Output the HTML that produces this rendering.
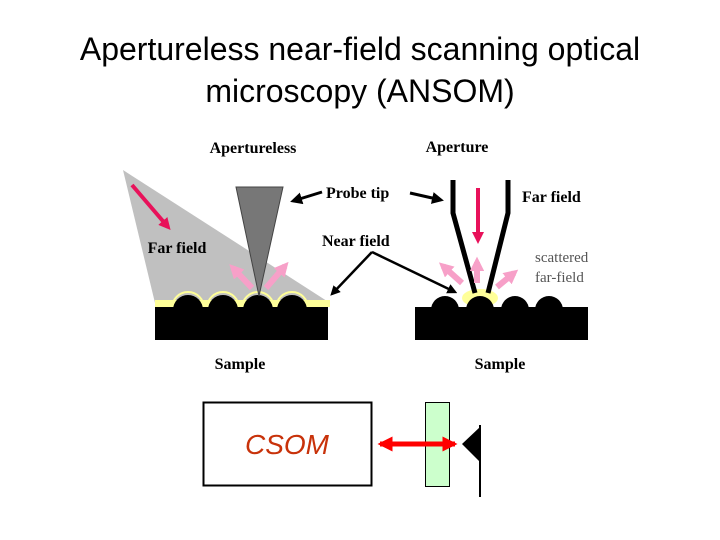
<!DOCTYPE html>
<html><head><style>
body{margin:0;background:#fff;}
svg{display:block}
</style></head><body>
<svg width="720" height="540" viewBox="0 0 720 540" xmlns="http://www.w3.org/2000/svg">
<defs>
<marker id="ah" markerWidth="4" markerHeight="4" refX="3" refY="2" orient="auto" markerUnits="strokeWidth"><path d="M0,0 L4,2 L0,4 z" fill="#000"/></marker>
<marker id="ahr" markerWidth="3" markerHeight="3" refX="2" refY="1.5" orient="auto" markerUnits="strokeWidth"><path d="M0,0 L3,1.5 L0,3 z" fill="#e8115a"/></marker>
<marker id="ahp" markerWidth="2.4" markerHeight="2.4" refX="1.5" refY="1.2" orient="auto" markerUnits="strokeWidth"><path d="M0,0 L2.4,1.2 L0,2.4 z" fill="#f7a0c8"/></marker>
<marker id="rd" markerWidth="3" markerHeight="3" refX="2.5" refY="1.5" orient="auto-start-reverse" markerUnits="strokeWidth"><path d="M0,0 L3,1.5 L0,3 z" fill="#f00"/></marker>
</defs>
<text x="360" y="60" font-family="Liberation Sans, sans-serif" font-size="32" text-anchor="middle">Apertureless near-field scanning optical</text>
<text x="360" y="102" font-family="Liberation Sans, sans-serif" font-size="32" text-anchor="middle">microscopy (ANSOM)</text>

<!-- left panel -->
<polygon points="123,170 155,303 330,303" fill="#c0c0c0"/>
<rect x="155" y="300" width="175" height="7" fill="#ffff99"/>
<g fill="#000">
<circle cx="188" cy="310" r="15"/><circle cx="223" cy="310" r="15"/><circle cx="258" cy="310" r="15"/><circle cx="292" cy="310" r="15"/>
</g>
<g fill="none" stroke="#ffff99" stroke-width="2">
<path d="M172,308 A16,16 0 0 1 204,308"/><path d="M207,308 A16,16 0 0 1 239,308"/><path d="M242,308 A16,16 0 0 1 274,308"/><path d="M276,308 A16,16 0 0 1 308,308"/>
</g>
<rect x="155" y="307" width="173" height="33" fill="#000"/>
<polygon points="236,187 283,187 259,296" fill="#777" stroke="#444" stroke-width="1"/>
<line x1="132" y1="185" x2="168" y2="227" stroke="#e8115a" stroke-width="4" marker-end="url(#ahr)"/>
<line x1="252" y1="288" x2="233" y2="268" stroke="#f7a0c8" stroke-width="6" marker-end="url(#ahp)"/>
<line x1="266" y1="288" x2="285" y2="266" stroke="#f7a0c8" stroke-width="6" marker-end="url(#ahp)"/>

<!-- right panel -->
<ellipse cx="480" cy="298" rx="18" ry="9" fill="#ffff99"/>
<g fill="#000">
<circle cx="445" cy="310" r="14"/><circle cx="480" cy="310" r="14"/><circle cx="515" cy="310" r="14"/><circle cx="549" cy="310" r="14"/>
</g>
<rect x="415" y="307" width="173" height="33" fill="#000"/>
<polyline points="453,180 453,213 475,293" fill="none" stroke="#000" stroke-width="5"/>
<polyline points="508,180 508,213 488,293" fill="none" stroke="#000" stroke-width="5"/>
<line x1="478" y1="188" x2="478" y2="240" stroke="#e8115a" stroke-width="4" marker-end="url(#ahr)"/>
<line x1="477" y1="283" x2="477" y2="262" stroke="#f7a0c8" stroke-width="6" marker-end="url(#ahp)"/>
<line x1="462" y1="283" x2="443" y2="266" stroke="#f7a0c8" stroke-width="6" marker-end="url(#ahp)"/>
<line x1="497" y1="287" x2="514" y2="273" stroke="#f7a0c8" stroke-width="6" marker-end="url(#ahp)"/>

<!-- pointer arrows -->
<line x1="322" y1="192" x2="293" y2="201" stroke="#000" stroke-width="3" marker-end="url(#ah)"/>
<line x1="410" y1="193" x2="441" y2="200" stroke="#000" stroke-width="3" marker-end="url(#ah)"/>
<line x1="372" y1="252" x2="332" y2="294" stroke="#000" stroke-width="2.5" marker-end="url(#ah)"/>
<line x1="372" y1="252" x2="455" y2="292" stroke="#000" stroke-width="2.5" marker-end="url(#ah)"/>

<g font-family="Liberation Serif, serif" font-weight="bold" font-size="16">
<text x="253" y="153" text-anchor="middle">Apertureless</text>
<text x="457" y="152" text-anchor="middle">Aperture</text>
<text x="177" y="253" text-anchor="middle">Far field</text>
<text x="240" y="369" text-anchor="middle">Sample</text>
<text x="500" y="369" text-anchor="middle">Sample</text>
<text x="326" y="198">Probe tip</text>
<text x="522" y="202">Far field</text>
<text x="322" y="246">Near field</text>
</g>
<text x="535" y="262" font-family="Liberation Serif, serif" font-size="15" fill="#555">scattered</text>
<text x="535" y="282" font-family="Liberation Serif, serif" font-size="15" fill="#555">far-field</text>

<!-- bottom -->
<rect x="203.5" y="402.5" width="168" height="83" fill="#fff" stroke="#000" stroke-width="2"/>
<text x="287" y="454" font-family="Liberation Sans, sans-serif" font-style="italic" font-size="28" fill="#c8320a" text-anchor="middle">CSOM</text>
<rect x="425.5" y="402.5" width="24" height="84" fill="#ccffcc" stroke="#000" stroke-width="1"/>
<line x1="380" y1="444" x2="455" y2="444" stroke="#f00" stroke-width="5" marker-start="url(#rd)" marker-end="url(#rd)"/>
<polygon points="462,444 480,427 480,462" fill="#000"/>
<line x1="480" y1="425" x2="480" y2="497" stroke="#000" stroke-width="2"/>
</svg>
</body></html>
